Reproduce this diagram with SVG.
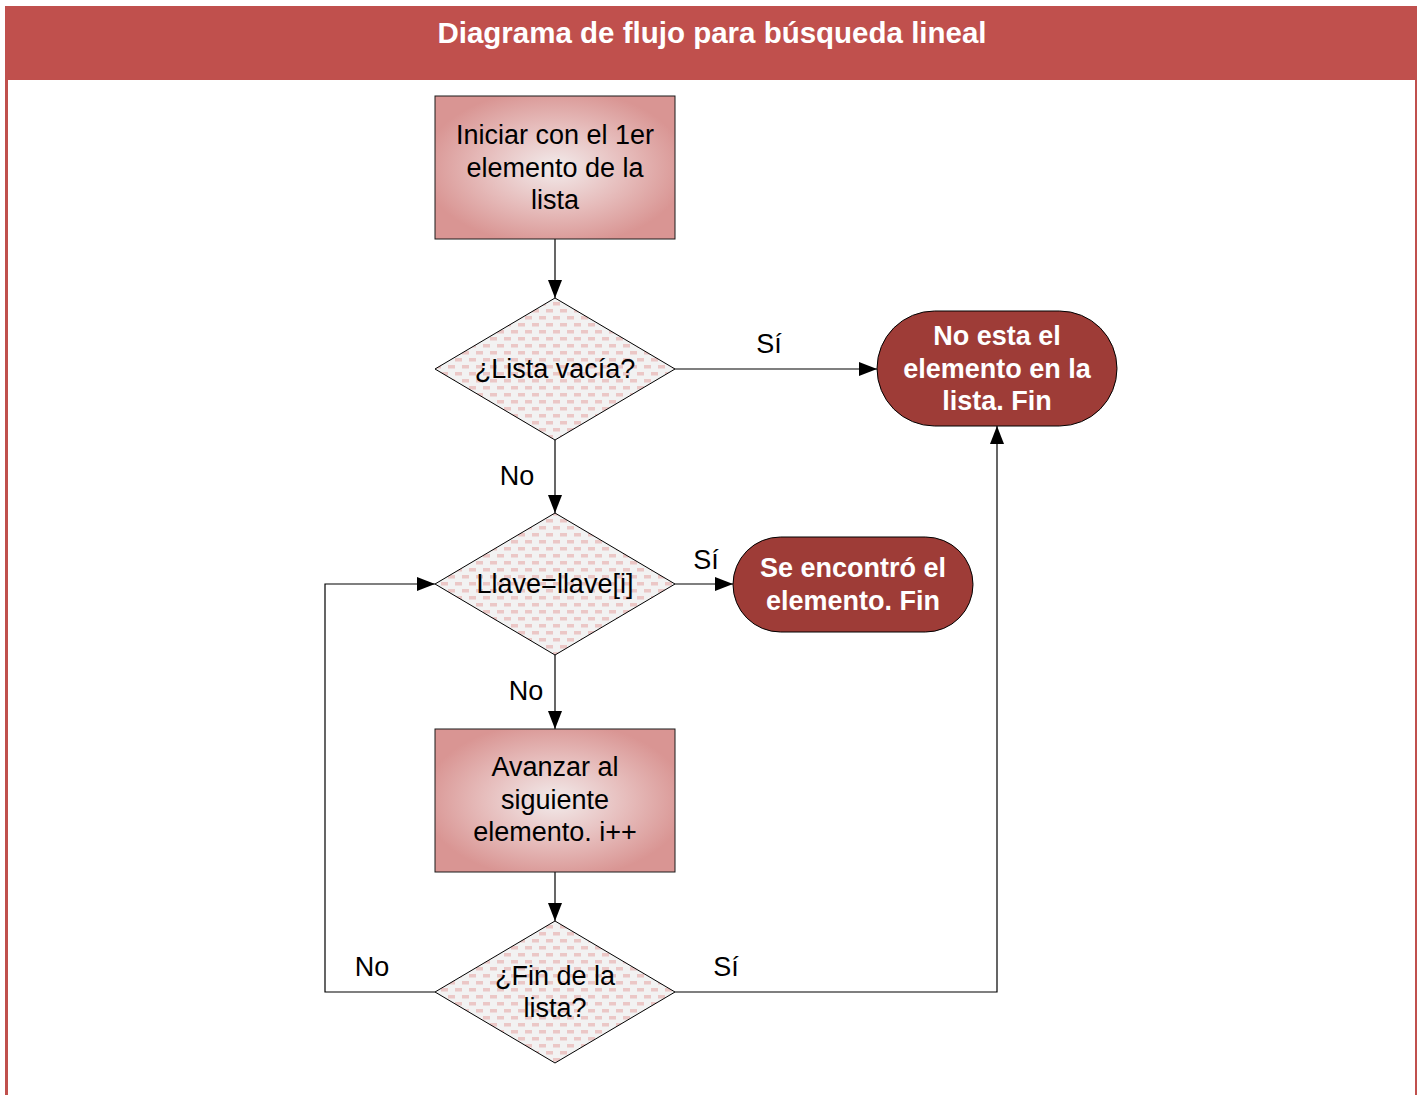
<svg xmlns="http://www.w3.org/2000/svg" width="1423" height="1095" viewBox="0 0 1423 1095">
  <style>
    .txt { font-family: "Liberation Sans", Arial, sans-serif; font-size: 27px; fill: #000; text-anchor: middle; }
    .term-txt { font-family: "Liberation Sans", Arial, sans-serif; font-size: 27px; font-weight: bold; fill: #fff; text-anchor: middle; }
    .title { font-family: "Liberation Sans", Arial, sans-serif; font-size: 29.5px; font-weight: bold; fill: #fff; text-anchor: middle; }
    .proc { fill: url(#procFill); stroke: #1a1a1a; stroke-width: 1; }
    .dec { fill: url(#brick); stroke: #000; stroke-width: 1; }
    .term { fill: #9e3c37; stroke: #000; stroke-width: 1; }
    .wire { fill: none; stroke: #000; stroke-width: 1.2; }
  </style>
  <defs>
    <radialGradient id="procFill" cx="0.5" cy="0.5" r="0.55">
      <stop offset="0" stop-color="#f2ebeb"/>
      <stop offset="0.55" stop-color="#e6bcbb"/>
      <stop offset="1" stop-color="#d99593"/>
    </radialGradient>
    <pattern id="brick" x="0" y="0" width="14" height="14" patternUnits="userSpaceOnUse">
      <rect width="14" height="14" fill="#f2f2f2"/>
      <rect x="0" y="1" width="7" height="3.5" fill="#ebc7c6"/>
      <rect x="7" y="8" width="7" height="3.5" fill="#ebc7c6"/>
    </pattern>
    <marker id="arrow" markerWidth="18" markerHeight="14" refX="18" refY="7" orient="auto" markerUnits="userSpaceOnUse">
      <path d="M0,0 L18,7 L0,14 Z" fill="#000"/>
    </marker>
  </defs>

  <!-- frame -->
  <rect x="0" y="0" width="1423" height="1095" fill="#fff"/>
  <rect x="5" y="6" width="1412" height="74" fill="#c0504d"/>
  <rect x="5" y="80" width="3" height="1015" fill="#c0504d"/>
  <rect x="1415" y="80" width="2" height="1015" fill="#c0504d"/>
  <text class="title" x="712" y="43">Diagrama de flujo para búsqueda lineal</text>

  <!-- connectors -->
  <g id="connectors">
    <line class="wire" x1="555" y1="239" x2="555" y2="298" marker-end="url(#arrow)"/>
    <line class="wire" x1="675" y1="369" x2="877" y2="369" marker-end="url(#arrow)"/>
    <line class="wire" x1="555" y1="440" x2="555" y2="513" marker-end="url(#arrow)"/>
    <line class="wire" x1="675" y1="584" x2="733" y2="584" marker-end="url(#arrow)"/>
    <line class="wire" x1="555" y1="655" x2="555" y2="729" marker-end="url(#arrow)"/>
    <line class="wire" x1="555" y1="872" x2="555" y2="921" marker-end="url(#arrow)"/>
    <polyline class="wire" points="435,992 325,992 325,584 435,584" marker-end="url(#arrow)"/>
    <polyline class="wire" points="675,992 997,992 997,426" marker-end="url(#arrow)"/>
    <text class="txt" x="769" y="353">Sí</text>
    <text class="txt" x="517" y="485">No</text>
    <text class="txt" x="706" y="569">Sí</text>
    <text class="txt" x="526" y="700">No</text>
    <text class="txt" x="372" y="976">No</text>
    <text class="txt" x="726" y="976">Sí</text>
  </g>

  <!-- nodes -->
  <g id="start">
    <rect class="proc" x="435" y="96" width="240" height="143"/>
    <text class="txt" x="555" y="144">Iniciar con el 1er</text>
    <text class="txt" x="555" y="177">elemento de la</text>
    <text class="txt" x="555" y="209">lista</text>
  </g>

  <g id="empty-check">
    <polygon class="dec" points="555,298 675,369 555,440 435,369"/>
    <text class="txt" x="555" y="378">¿Lista vacía?</text>
  </g>

  <g id="not-found">
    <rect class="term" x="877" y="311" width="240" height="115" rx="57.5" ry="57.5"/>
    <text class="term-txt" x="997" y="345">No esta el</text>
    <text class="term-txt" x="997" y="378">elemento en la</text>
    <text class="term-txt" x="997" y="410">lista. Fin</text>
  </g>

  <g id="key-check">
    <polygon class="dec" points="555,513 675,584 555,655 435,584"/>
    <text class="txt" x="555" y="593">Llave=llave[i]</text>
  </g>

  <g id="found">
    <rect class="term" x="733" y="537" width="240" height="95" rx="47.5" ry="47.5"/>
    <text class="term-txt" x="853" y="577">Se encontró el</text>
    <text class="term-txt" x="853" y="610">elemento. Fin</text>
  </g>

  <g id="advance">
    <rect class="proc" x="435" y="729" width="240" height="143"/>
    <text class="txt" x="555" y="776">Avanzar al</text>
    <text class="txt" x="555" y="809">siguiente</text>
    <text class="txt" x="555" y="841">elemento. i++</text>
  </g>

  <g id="end-check">
    <polygon class="dec" points="555,921 675,992 555,1063 435,992"/>
    <text class="txt" x="555" y="985">¿Fin de la</text>
    <text class="txt" x="555" y="1017">lista?</text>
  </g>
</svg>
